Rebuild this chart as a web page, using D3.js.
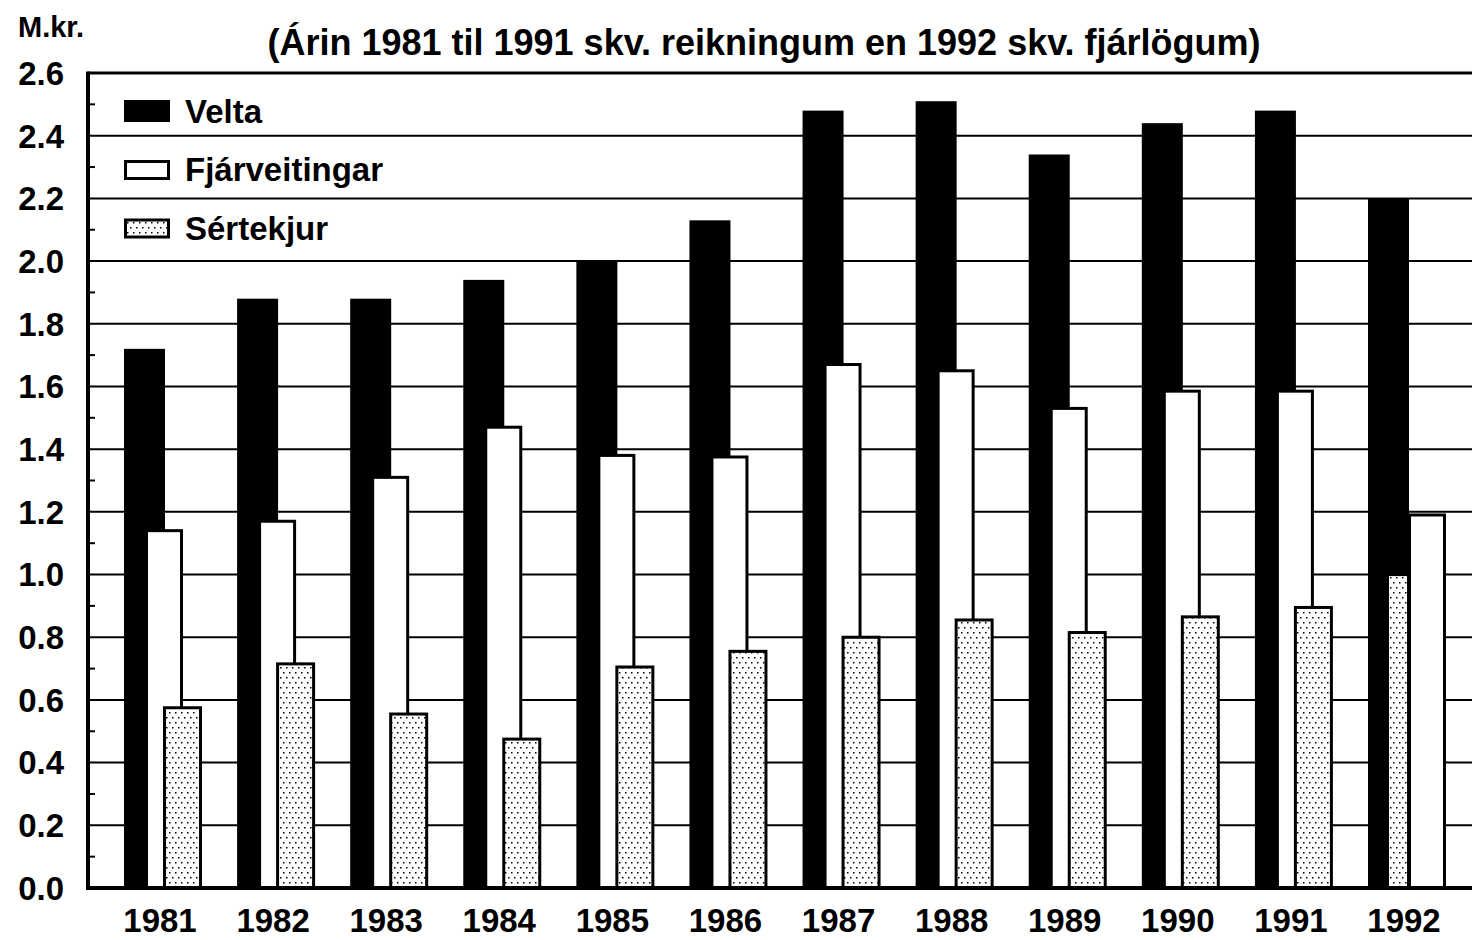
<!DOCTYPE html>
<html>
<head>
<meta charset="utf-8">
<script src="https://cdn.jsdelivr.net/npm/d3@7"></script>
<style>
  body { margin: 0; background: #fff; }
  svg { display: block; }
  text { font-family: "Liberation Sans", Arial, sans-serif; font-weight: bold; fill: #000; }
</style>
</head>
<body>
<svg id="chart" width="1472" height="940"></svg>
<script>
// values (M.kr.)
const years = ["1981","1982","1983","1984","1985","1986","1987","1988","1989","1990","1991","1992"];
const velta = [1.72, 1.88, 1.88, 1.94, 2.00, 2.13, 2.48, 2.51, 2.34, 2.44, 2.48, 2.20];
const fjarveitingar = [1.14, 1.17, 1.31, 1.47, 1.38, 1.375, 1.67, 1.65, 1.53, 1.585, 1.585, 1.19];
const sertekjur = [0.575, 0.715, 0.555, 0.475, 0.705, 0.755, 0.80, 0.855, 0.815, 0.865, 0.895, 0.995];
const yTicks = [0, 0.2, 0.4, 0.6, 0.8, 1.0, 1.2, 1.4, 1.6, 1.8, 2.0, 2.2, 2.4, 2.6];
const seriesNames = ["Velta", "Fjárveitingar", "Sértekjur"];
const subtitle = "(Árin 1981 til 1991 skv. reikningum en 1992 skv. fjárlögum)";
const unitLabel = "M.kr.";

const svg = d3.select("#chart");
const margin = { top: 73, right: 0, bottom: 52, left: 88 };
const width = 1472, height = 940;

// dotted fill for Sértekjur
const defs = svg.append("defs");
const pat = defs.append("pattern")
    .attr("id", "dots")
    .attr("patternUnits", "userSpaceOnUse")
    .attr("width", 6).attr("height", 10);
pat.append("rect").attr("width", 6).attr("height", 10).attr("fill", "#fff");
pat.append("rect").attr("x", 1).attr("y", 2).attr("width", 1.5).attr("height", 1.5).attr("fill", "#000");
pat.append("rect").attr("x", 4).attr("y", 7).attr("width", 1.5).attr("height", 1.5).attr("fill", "#000");

const y = d3.scaleLinear().domain([0, 2.6]).range([height - margin.bottom, margin.top]);
// left edge of each year group
const x = d3.scalePoint().domain(years).range([124, 1368]);

// gridlines
svg.append("g").selectAll("line")
  .data(yTicks.filter(d => d > 0))
  .join("line")
    .attr("x1", margin.left).attr("x2", width)
    .attr("y1", d => y(d)).attr("y2", d => y(d))
    .attr("stroke", "#000")
    .attr("stroke-width", d => d === 2.6 ? 3 : 2);

// minor ticks
svg.append("g").selectAll("line")
  .data(d3.range(0.1, 2.6, 0.2))
  .join("line")
    .attr("x1", margin.left).attr("x2", margin.left + 7)
    .attr("y1", d => y(d)).attr("y2", d => y(d))
    .attr("stroke", "#000").attr("stroke-width", 2);

// bars: in 1992 the two light bars trade places
const rows = years.map((yr, i) => ({ yr, v: velta[i], f: fjarveitingar[i], s: sertekjur[i] }));
const bars = svg.append("g");
rows.forEach(d => {
  const L = x(d.yr);
  const swap = d.yr === "1992";
  bars.append("rect")
    .attr("x", L).attr("width", 41)
    .attr("y", y(d.v)).attr("height", y(0) - y(d.v))
    .attr("fill", "#000");
  const drawF = () => bars.append("rect")
    .attr("x", L + (swap ? 41.5 : 22.5)).attr("width", 35)
    .attr("y", y(d.f)).attr("height", y(0) - y(d.f))
    .attr("fill", "#fff").attr("stroke", "#000").attr("stroke-width", 3);
  const drawS = () => bars.append("rect")
    .attr("x", swap ? L + 21 : L + 40.5).attr("width", swap ? 18 : 36)
    .attr("y", y(d.s)).attr("height", y(0) - y(d.s))
    .attr("fill", "url(#dots)").attr("stroke", swap ? "none" : "#000").attr("stroke-width", 3);
  if (swap) { drawS(); drawF(); } else { drawF(); drawS(); }
});

// axis lines
svg.append("line")
  .attr("x1", margin.left).attr("x2", margin.left)
  .attr("y1", y(2.6) - 1.5).attr("y2", y(0) + 2)
  .attr("stroke", "#000").attr("stroke-width", 4);
svg.append("line")
  .attr("x1", margin.left - 2).attr("x2", width)
  .attr("y1", y(0)).attr("y2", y(0))
  .attr("stroke", "#000").attr("stroke-width", 4);

// y tick labels
svg.append("g").selectAll("text")
  .data(yTicks)
  .join("text")
    .attr("x", 64).attr("y", d => y(d))
    .attr("dy", "0.36em")
    .attr("text-anchor", "end")
    .style("font-size", "33px")
    .text(d => d3.format(".1f")(d));

// year labels
svg.append("g").selectAll("text")
  .data(years)
  .join("text")
    .attr("x", d => x(d) + 36).attr("y", 932)
    .attr("text-anchor", "middle")
    .style("font-size", "33px")
    .text(d => d);

// unit + subtitle
svg.append("text").attr("x", 18).attr("y", 37).style("font-size", "29px").text(unitLabel);
svg.append("text").attr("x", 764).attr("y", 55)
  .attr("text-anchor", "middle").style("font-size", "36px")
  .text(subtitle);

// legend
const legend = svg.append("g");
const fills = ["#000", "#fff", "url(#dots)"];
seriesNames.forEach((name, i) => {
  const cy = 111 + i * 58.5;
  legend.append("rect")
    .attr("x", i === 0 ? 124 : 125.5).attr("y", i === 0 ? cy - 11 : cy - 8)
    .attr("width", i === 0 ? 46 : 43).attr("height", i === 0 ? 22 : 17)
    .attr("fill", fills[i])
    .attr("stroke", i === 0 ? "none" : "#000").attr("stroke-width", 3);
  legend.append("text")
    .attr("x", 185).attr("y", cy).attr("dy", "0.36em")
    .style("font-size", "33px")
    .text(name);
});
</script>
</body>
</html>
